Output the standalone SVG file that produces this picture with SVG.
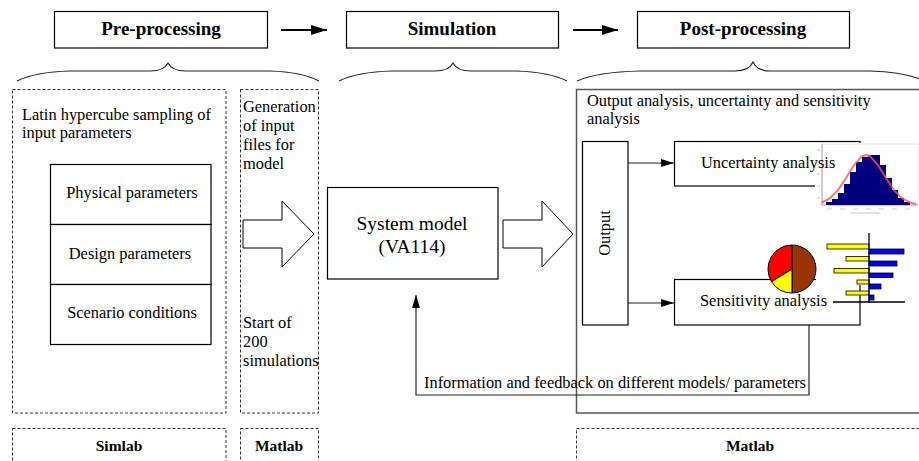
<svg xmlns="http://www.w3.org/2000/svg" width="919" height="461" viewBox="0 0 919 461">
<defs>
<style>
text{font-family:"Liberation Serif","Times New Roman",serif;fill:#000}
.t{font-size:16.4px}
.big{font-size:19.5px}
.h{font-size:19px;font-weight:bold}
.lab{font-size:15.5px;font-weight:bold}
.box{fill:#fff;stroke:#000;stroke-width:1.2}
.panel{fill:none;stroke:#555;stroke-width:1.5}
.dash{fill:none;stroke:#333;stroke-width:1;stroke-dasharray:3 2}
.brace{fill:none;stroke:#222;stroke-width:1.2}
.ln{fill:none;stroke:#222;stroke-width:1.2}
.blk{fill:#fff;stroke:#000;stroke-width:1}
.by{fill:#ffff00;stroke:#000;stroke-width:0.8}
.bb{fill:#0000ff;stroke:#000;stroke-width:0.8}
</style>
<marker id="big" viewBox="0 0 16 10" refX="16" refY="5" markerWidth="16" markerHeight="10" markerUnits="userSpaceOnUse" orient="auto"><path d="M0 0L16 5L0 10z" fill="#000"/></marker>
<marker id="sm" viewBox="0 0 13 8" refX="13" refY="4" markerWidth="13" markerHeight="8" markerUnits="userSpaceOnUse" orient="auto"><path d="M0 0L13 4L0 8z" fill="#000"/></marker>
</defs>
<rect width="919" height="461" fill="#fff"/>

<!-- stage headers -->
<g id="pre-processing">
<rect class="box" x="54.5" y="11.5" width="213" height="36.5"/>
<text class="h" x="161" y="35" text-anchor="middle">Pre-processing</text>
</g>
<g id="simulation">
<rect class="box" x="346.5" y="11.5" width="212" height="36.5"/>
<text class="h" x="452" y="35" text-anchor="middle">Simulation</text>
</g>
<g id="post-processing">
<rect class="box" x="637.5" y="11.5" width="212" height="36.5"/>
<text class="h" x="743" y="35" text-anchor="middle">Post-processing</text>
</g>

<!-- braces under the headers -->
<g id="braces">
<path class="brace" d="M17 81Q35 72 70 71L150 71Q164 71 168 63Q172 71 186 71L270 71Q302 72 319 81"/>
<path class="brace" d="M339 81Q357 72 392 71L435 71Q449 71 453 63Q457 71 471 71L516 71Q549 72 567 81"/>
<path class="brace" d="M577 81Q597 72 640 71L735 71Q749 71 753 62Q757 71 771 71L870 71Q905 72 925 81"/>
</g>

<!-- sampling panel -->
<g id="sampling">
<rect class="dash" x="12.5" y="89.5" width="213.5" height="323.5"/>
<text class="t" x="22" y="120">Latin hypercube sampling of</text>
<text class="t" x="22" y="138">input parameters</text>
</g>
<g id="physical">
<rect class="box" x="50.5" y="164.5" width="160.5" height="60"/>
<text class="t" x="132" y="198" text-anchor="middle">Physical parameters</text>
</g>
<g id="design">
<rect class="box" x="50.5" y="224.5" width="160.5" height="60"/>
<text class="t" x="130" y="259" text-anchor="middle">Design parameters</text>
</g>
<g id="scenario">
<rect class="box" x="50.5" y="284.5" width="160.5" height="60"/>
<text class="t" x="132" y="318" text-anchor="middle">Scenario conditions</text>
</g>

<!-- input generation panel -->
<g id="generation">
<rect class="dash" x="240.5" y="89.5" width="78" height="323.5"/>
<text class="t" x="243" y="112">Generation</text>
<text class="t" x="243" y="131">of input</text>
<text class="t" x="243" y="150">files for</text>
<text class="t" x="243" y="169">model</text>
<text class="t" x="243" y="328">Start of</text>
<text class="t" x="243" y="347">200</text>
<text class="t" x="243" y="366">simulations</text>
</g>

<!-- tool labels -->
<g id="simlab-label">
<rect class="dash" x="12.5" y="428.5" width="213.5" height="40"/>
<text class="lab" x="119" y="451" text-anchor="middle">Simlab</text>
</g>
<g id="matlab-label-1">
<rect class="dash" x="240.5" y="428.5" width="78" height="40"/>
<text class="lab" x="279" y="451" text-anchor="middle">Matlab</text>
</g>
<g id="matlab-label-2">
<rect class="dash" x="576.5" y="428.5" width="350" height="40"/>
<text class="lab" x="750" y="451" text-anchor="middle">Matlab</text>
</g>

<!-- system model -->
<g id="system-model">
<rect class="box" x="327.5" y="187.5" width="170.5" height="91.5"/>
<text class="big" x="412" y="230" text-anchor="middle">System model</text>
<text class="big" x="412" y="253" text-anchor="middle">(VA114)</text>
</g>

<!-- analysis panel -->
<g id="analysis">
<rect class="panel" x="576.5" y="89.5" width="350" height="323.5"/>
<text class="t" x="587" y="106">Output analysis, uncertainty and sensitivity</text>
<text class="t" x="587" y="124">analysis</text>
</g>
<g id="output">
<rect class="box" x="582.5" y="141.5" width="45.5" height="183.5"/>
<text class="t" x="0" y="0" text-anchor="middle" transform="translate(610 233) rotate(-90)">Output</text>
</g>
<g id="uncertainty">
<rect class="box" x="674.5" y="141.5" width="185.5" height="44.5"/>
<!-- histogram plot -->
<g id="histogram">
<rect x="815" y="143" width="104" height="72" fill="#fff"/>
<rect x="822" y="144" width="96" height="61" fill="none" stroke="#ddd" stroke-width="0.8"/>
<path d="M822 144V205H918" fill="none" stroke="#aaa" stroke-width="1"/>
<path d="M826 205V202H832V199H838V193H844V184H850V172H856V162H862V157H868V155H880V165H886V178H892V190H898V198H904V202H910V205Z" fill="#00007f"/>
<polyline points="822,202.5 830,198.2 838,190.1 846,178 854,165 862,156.2 866,155 870,156.2 878,165 886,178 894,190.1 902,198.2 910,202.5 916,204" fill="none" stroke="#ff5050" stroke-width="2" stroke-opacity="0.8"/>
<g stroke="#ccc" stroke-width="1.2">
<path d="M817 150h3M817 162h3M817 174h3M817 186h3M817 198h3"/>
<path d="M827 209h5M840 209h5M853 209h5M866 209h5M879 209h5M892 209h5M905 209h5"/>
<path d="M850 213h30"/>
</g>
</g>
<text class="t" x="701" y="168">Uncertainty analysis</text>
</g>
<g id="sensitivity">
<rect class="box" x="674.5" y="279.5" width="185.5" height="45.5"/>
<text class="t" x="700" y="306">Sensitivity analysis</text>
</g>

<!-- pie and bar plots -->
<g id="pie">
<rect x="816" y="268" width="48" height="17" fill="#fff"/>
<path d="M792 269V245A24 24 0 0 1 792 293Z" fill="#993300" stroke="#000" stroke-width="1"/>
<path d="M792 269V245A24 24 0 0 0 771.6 281.7Z" fill="#ff0000" stroke="#000" stroke-width="1"/>
<path d="M792 269L771.6 281.7A24 24 0 0 0 792 293Z" fill="#ffff00" stroke="#000" stroke-width="1"/>
</g>
<g id="bars">
<rect class="by" x="827" y="244" width="42" height="5"/>
<rect class="bb" x="869" y="249" width="35" height="5"/>
<rect class="by" x="846" y="256.5" width="23" height="4.5"/>
<rect class="bb" x="869" y="261" width="28" height="5"/>
<rect class="by" x="834" y="268.5" width="35" height="4.5"/>
<rect class="bb" x="869" y="273" width="24" height="4.5"/>
<rect class="by" x="857" y="280" width="12" height="4"/>
<rect class="bb" x="869" y="284" width="12" height="5"/>
<rect class="by" x="846" y="291" width="23" height="4"/>
<rect class="bb" x="869" y="295" width="5" height="5"/>
<path d="M869 233V303M833 302H905" fill="none" stroke="#000" stroke-width="1.3"/>
</g>

<!-- connectors -->
<g id="connectors">
<line x1="281" y1="30" x2="327" y2="30" stroke="#000" stroke-width="2" marker-end="url(#big)"/>
<line x1="573" y1="30" x2="618" y2="30" stroke="#000" stroke-width="2" marker-end="url(#big)"/>
<path class="blk" d="M243 220H282V201L314 234L282 267V248H243Z"/>
<path class="blk" d="M503 220H542V201L573 234L542 267V248H503Z"/>
<line class="ln" x1="628" y1="163" x2="674" y2="163" marker-end="url(#sm)"/>
<line class="ln" x1="628" y1="303" x2="674" y2="303" marker-end="url(#sm)"/>
<path class="ln" d="M809 325V395H416V295" marker-end="url(#sm)"/>
</g>
<text class="t" x="424" y="388">Information and feedback on different models/ parameters</text>
</svg>
